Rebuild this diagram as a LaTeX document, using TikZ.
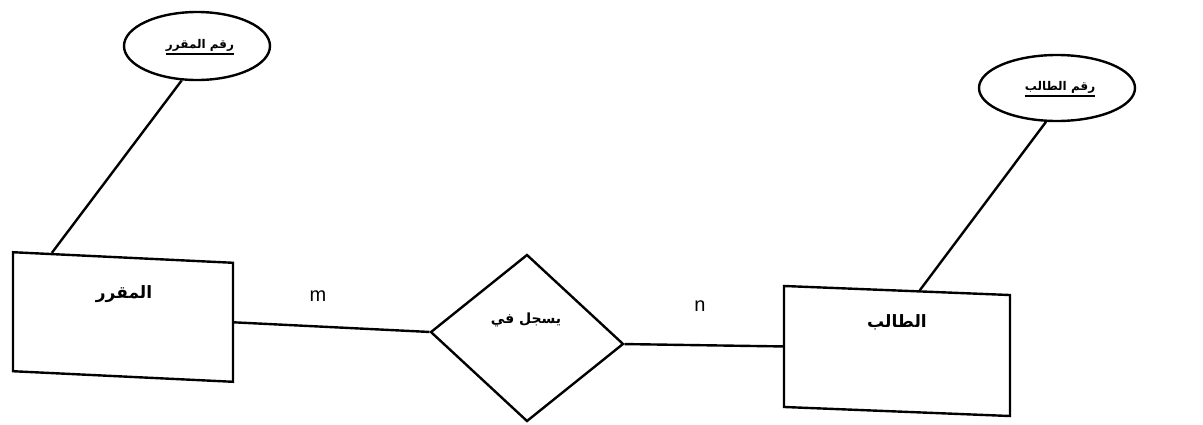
\documentclass[tikz,border=0pt]{standalone}
\usepackage{fontspec}
\setmainfont{Liberation Sans}
\newfontfamily\arabicfont[Script=Arabic]{DejaVu Sans}
\TeXXeTstate=1
\usetikzlibrary{shapes.geometric,calc}
\newcommand{\ulthick}[1]{\setbox0\hbox{#1}\vtop{\copy0\kern1.5pt\hrule height 1.8pt width \wd0}}
\begin{document}
\begin{tikzpicture}[x=1pt,y=-1pt,
  ent/.style={draw,line width=2.4pt,rectangle},
  attr/.style={draw,line width=2.4pt,ellipse,inner sep=0pt},
  rel/.style={draw,line width=2.4pt,diamond,inner sep=0pt,minimum width=193pt,minimum height=167pt,yslant=-0.062},
  lbl/.style={font=\arabicfont\bfseries\fontsize{17}{20}\selectfont},
  albl/.style={font=\arabicfont\bfseries\fontsize{12}{14}\selectfont},
  card/.style={font=\fontsize{20}{24}\selectfont},
  conn/.style={line width=2.4pt}]
\useasboundingbox (0,0) rectangle (1203,424);
% entities
\node[ent,minimum width=220pt,minimum height=119pt,yslant=-0.048] (r1) at (123,317) {};
\node[ent,minimum width=226pt,minimum height=121pt,yslant=-0.040] (r2) at (897,351) {};
\node[lbl] (t1) at (124,294) {\beginR المقرر\endR};
\node[lbl] (t2) at (897,322) {\beginR الطالب\endR};
% relationship
\node[rel] (d) at (527,338) {};
\node[lbl,font=\arabicfont\bfseries\fontsize{14}{16}\selectfont] (td) at (526,320) {\beginR يسجل في\endR};
% attributes
\node[attr,minimum width=146pt,minimum height=68pt] (a1) at (197,46) {};
\node[albl] (ta1) at (200,47) {\ulthick{\beginR رقم المقرر\endR}};
\node[attr,minimum width=156pt,minimum height=66pt] (a2) at (1057,88) {};
\node[albl] (ta2) at (1060,89) {\ulthick{\beginR رقم الطالب\endR}};
% cardinalities
\node[card] (m) at (318,296) {m};
\node[card] (n) at (700,306) {n};
% connectors
\draw[conn] (a1.246) -- ($(r1.north west)!0.18!(r1.north east)$);
\draw[conn] (a2.252) -- ($(r2.north west)!0.6!(r2.north east)$);
\draw[conn] (r1.east) -- (d.west);
\draw[conn] (d.east) -- (r2.west);
\end{tikzpicture}
\end{document}
